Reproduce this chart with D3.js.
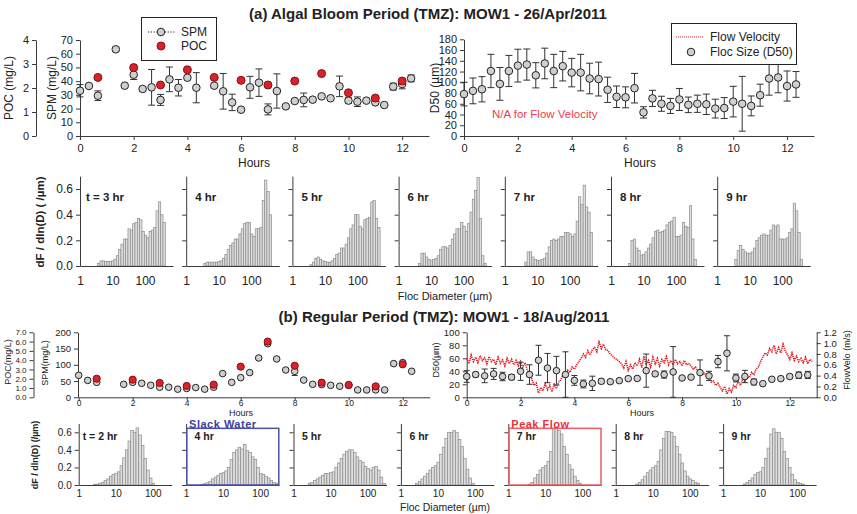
<!DOCTYPE html>
<html>
<head>
<meta charset="utf-8">
<script src="https://cdn.jsdelivr.net/npm/d3@7"></script>
<style>
  body { margin: 0; background: #fff; }
  svg { font-family: "Liberation Sans", Arial, sans-serif; }
</style>
</head>
<body>
<svg id="fig" width="857" height="514"></svg>
<script>
// ---------- (a) Algal bloom period, 26 Apr 2011 ----------
const spmHoursA = [0,0.333,0.667,1.333,1.667,2,2.333,2.667,3,3.333,3.667,4,4.333,5,5.333,5.667,6,6.333,6.667,7,7.333,7.667,8,8.333,8.667,9,9.333,9.667,10,10.333,10.667,11,11.333,11.667,12,12.333];
const spmA    = [33,36.5,29.4,63.2,36.7,44.7,34.3,35.5,26.3,41.3,35.2,42.5,35.2,36.7,32.6,24.5,19.2,35.5,38.9,19.4,32.8,21.6,25.5,26.3,26.5,28.9,27.5,36.2,25.8,25.0,25.8,24.5,22.6,36.0,37.9,42.0];
const spmErrA = [4.5,0,3.5,1.5,0,3.5,1.5,13,4,9,6,0,11,0,13,6,0,8,10,4,12.5,0,0,5,0,0,0,7.5,2,3.5,0,0,0,2.5,3.5,2.5];

const pocHoursA = [0.667,2,3,4,5,6,7,8,9,10,11,12];
const pocA      = [2.44,2.85,2.125,2.76,2.44,2.32,2.125,2.29,2.6,1.8,1.58,2.29];

const d50HoursA = [0,0.333,0.667,1,1.333,1.667,2,2.333,2.667,3,3.333,3.667,4,4.333,4.667,5,5.333,5.667,6,6.333,6.667,7,7.333,7.667,8,8.333,8.667,9,9.333,9.667,10,10.333,10.667,11,11.333,11.667,12,12.333];
const d50A    = [78,84,87,121,97,121,131,133,113,135,121,130,118,118,107,106,86,73,72,89,44,70,60,56,68,58,60,59,51,52,64,60,56,76,107,109,93,96];
const d50ErrA = [22,24,23.5,31,30.5,29,30.5,29,23.5,28.5,31,27.5,26.5,34,28.5,31.5,23.5,20,19.5,27.5,10.5,15,14,14,20.5,14.5,16,19,17.5,19.5,28.5,51,18.5,20.5,31,28.5,28,24];

// ---------- (b) Regular period, 18 Aug 2011 ----------
const spmHoursB = [0,0.333,0.667,1.667,2,2.333,2.667,3,3.333,3.667,4,4.333,4.667,5,5.333,5.667,6,6.333,6.667,7,7.333,7.667,8,8.333,8.667,9,9.333,9.667,10,10.333,10.667,11,11.333,11.667,12,12.333];
const spmB    = [67.7,52,46,40,46,43,37,31,31,25,27,30,25,31,73,46,60.5,76,121,165,118,84,80,53,40,39,37,34,37,22.6,22.6,22.6,22.6,103.6,106.7,80];
const spmErrB = [0,0,3,0,5,0,0,3,0,0,3,0,0,3,0,0,0,0,0,5,0,0,13,0,0,3,0,0,3,0,0,0,0,0,3,0];

const pocHoursB = [0.667,2,3,4,5,6,7,8,9,10,11,12];
const pocB      = [2.0,1.9,1.55,1.22,1.36,3.3,6.0,3.4,1.58,1.33,1.18,3.55];

const d50HoursB = [0,0.333,0.667,1,1.333,1.667,2,2.333,2.667,3,3.333,3.667,4,4.333,4.667,5,5.333,5.667,6,6.333,6.667,7,7.333,7.667,8,8.333,8.667,9,9.333,9.667,10,10.333,10.667,11,11.333,11.667,12,12.333,12.667];
const d50B    = [32,35,33,36,32,31,40,35,57,45,41,35,26,20.5,21.5,24.6,24,25.6,28.7,29,41,36,35,39,29.7,31,38,33,55,67.7,29.7,32,23.6,21,27.7,28.7,32,34,34.4];
const d50ErrB = [9,3.5,10.5,8.5,6.5,4,14,15,23,22.5,22,35,7.5,6,11,3.5,2,2,2,2,25.5,3,5.5,39,2,2,19.5,7,9.5,27,6,9.5,4.5,2,2,2,3,5,5.5];

// Near-bed flow velocity (m/s), one reading every 5 minutes from 0 h
const velStepHours = 1 / 12;
const velocityB = [
  0.72,0.62,0.78,0.66,
  0.74,0.64,0.77,0.68,0.73,0.62,0.75,0.66,0.70,0.60,0.74,0.63,0.69,0.58,0.72,0.62,0.70,0.60,
  0.68,0.58,0.66,0.55,0.64,
  0.50,0.42,0.34,0.22,0.26,
  0.08,0.18,
  0.12,0.25,0.14,0.22,0.10,0.24,0.16,
  0.28,0.33,0.42,0.38,
  0.50,0.46,0.56,0.52,0.60,0.66,
  0.72,0.80,0.74,0.86,0.78,0.88,
  0.92,0.84,1.02,0.90,0.98,0.88,
  0.86,0.80,0.76,0.72,0.70,0.66,
  0.62,0.54,0.66,0.50,0.60,0.52,0.64,
  0.58,0.70,0.55,0.76,0.60,0.68,0.56,0.74,0.62,0.72,0.58,0.70,0.64,0.75,0.60,
  0.68,0.60,0.70,0.62,0.66,0.58,0.68,0.60,0.62,
  0.58,0.52,0.56,0.48,0.50,0.42,0.44,0.38,
  0.34,0.28,0.30,0.22,0.26,0.18,
  0.12,0.20,0.06,0.16,0.10,0.22,
  0.18,0.30,0.22,0.34,0.28,0.38,
  0.36,0.46,0.42,0.52,0.56,
  0.66,0.74,0.82,0.78,0.90,
  0.84,0.96,0.80,0.92,0.82,0.98,0.86,
  0.78,0.70,0.82,0.68,0.76,0.66,
  0.72,0.64,0.74,0.62,0.70,0.66
];

// ---------- Floc size distributions (32 log-spaced size classes, µm) ----------
const binEdges = [2.50,2.95,3.48,4.11,4.85,5.72,6.75,7.96,9.40,11.1,13.1,15.4,18.2,21.5,25.4,29.9,35.3,41.7,49.2,58.0,68.5,80.8,95.3,112.5,132.8,156.7,184.9,218.1,257.4,303.7,358.4,422.9,499.0];

const psdLabelsA = ["t = 3 hr","4 hr","5 hr","6 hr","7 hr","8 hr","9 hr"];
const psdA = [
  [0,0,0.02,0.04,0.04,0.035,0.035,0.035,0.04,0.05,0.08,0.13,0.17,0.21,0.21,0.29,0.28,0.33,0.34,0.37,0.36,0.27,0.24,0.22,0.27,0.28,0.30,0.43,0.50,0.40,0.34,0],
  [0,0,0.02,0.03,0.03,0.03,0.03,0.03,0.035,0.04,0.06,0.09,0.13,0.16,0.18,0.21,0.21,0.25,0.29,0.33,0.34,0.34,0.25,0.23,0.29,0.29,0.30,0.51,0.67,0.58,0.40,0],
  [0,0,0.01,0.03,0.06,0.07,0.05,0.04,0.035,0.03,0.03,0.04,0.06,0.09,0.10,0.14,0.14,0.17,0.22,0.29,0.32,0.40,0.40,0.31,0.29,0.36,0.37,0.38,0.50,0.51,0.37,0.30],
  [0,0,0,0.02,0.10,0.10,0.07,0.05,0.04,0.05,0.06,0.08,0.13,0.15,0.15,0.14,0.16,0.21,0.25,0.29,0.29,0.34,0.31,0.27,0.33,0.42,0.52,0.59,0.69,0.37,0.08,0.02],
  [0,0,0,0.03,0.11,0.11,0.07,0.05,0.045,0.045,0.05,0.06,0.10,0.15,0.20,0.21,0.20,0.21,0.23,0.23,0.26,0.26,0.25,0.23,0.25,0.35,0.54,0.48,0.63,0.46,0.42,0.26],
  [0,0,0.02,0.20,0.21,0.14,0.12,0.08,0.09,0.11,0.14,0.17,0.22,0.27,0.28,0.26,0.27,0.28,0.32,0.34,0.35,0.38,0.23,0.23,0.24,0.34,0.31,0.30,0.47,0.21,0.05,0],
  [0,0,0.05,0.12,0.16,0.13,0.11,0.10,0.10,0.11,0.14,0.20,0.22,0.24,0.25,0.24,0.24,0.28,0.32,0.31,0.32,0.21,0.21,0.21,0.22,0.26,0.29,0.49,0.43,0.26,0.05,0]
];

const psdLabelsB = ["t = 2 hr","4 hr","5 hr","6 hr","7 hr","8 hr","9 hr"];
const psdB = [
  [0.005,0.01,0.02,0.03,0.05,0.07,0.10,0.12,0.13,0.15,0.22,0.31,0.40,0.50,0.62,0.60,0.65,0.57,0.45,0.30,0.17,0.08,0.02,0,0,0,0,0,0,0,0,0],
  [0.005,0.015,0.025,0.04,0.07,0.09,0.11,0.13,0.14,0.16,0.20,0.29,0.37,0.40,0.43,0.41,0.46,0.39,0.37,0.32,0.29,0.20,0.13,0.12,0.10,0.08,0.05,0.03,0.02,0,0,0],
  [0.02,0.03,0.05,0.07,0.09,0.11,0.13,0.13,0.14,0.15,0.20,0.25,0.30,0.35,0.38,0.40,0.40,0.37,0.32,0.28,0.26,0.21,0.19,0.17,0.20,0.21,0.17,0.09,0.02,0,0,0],
  [0.02,0.04,0.07,0.10,0.13,0.17,0.20,0.22,0.26,0.35,0.43,0.53,0.60,0.60,0.62,0.60,0.52,0.44,0.30,0.18,0.08,0.02,0,0,0,0,0,0,0,0,0,0],
  [0,0,0.01,0.03,0.08,0.12,0.17,0.20,0.22,0.27,0.38,0.64,0.66,0.62,0.58,0.44,0.35,0.23,0.18,0.10,0.05,0.02,0,0,0,0,0,0,0,0,0,0],
  [0,0,0.01,0.03,0.06,0.10,0.14,0.17,0.20,0.22,0.27,0.40,0.53,0.61,0.61,0.60,0.55,0.44,0.35,0.25,0.16,0.10,0.07,0.05,0.03,0.02,0,0,0,0,0,0],
  [0,0,0.01,0.03,0.05,0.08,0.12,0.14,0.15,0.20,0.30,0.42,0.58,0.64,0.60,0.60,0.53,0.38,0.30,0.20,0.12,0.06,0.03,0.02,0.01,0,0,0,0,0,0,0]
];

const hourTicks = [0,2,4,6,8,10,12];
const psdTicks = [1,10,100];
const psdYTicks = [0,0.2,0.4,0.6];

// ---------- drawing ----------
const svg = d3.select("#fig");
const AXIS = "#3a3a3a", TXT = "#222";
const RED = "#d8232a", GREY = "#cfcfcf";

function styleAxis(g, fs) {
  g.attr("font-family", null).attr("font-size", fs);
  g.selectAll(".domain,.tick line").attr("stroke", AXIS);
  g.selectAll("text").attr("fill", TXT);
  return g;
}

function vText(x, y, txt, fs, weight) {
  return svg.append("text")
    .attr("transform", `translate(${x},${y}) rotate(-90)`)
    .attr("text-anchor", "middle").attr("font-size", fs)
    .attr("font-weight", weight || "normal").attr("fill", TXT).text(txt);
}

function hText(x, y, txt, fs, opts = {}) {
  return svg.append("text").attr("x", x).attr("y", y)
    .attr("text-anchor", opts.anchor || "start").attr("font-size", fs)
    .attr("font-weight", opts.weight || "normal")
    .attr("fill", opts.fill || TXT).text(txt);
}

function errorBars(g, xs, vs, es, x, y, cap) {
  const idx = d3.range(xs.length).filter(i => es[i] > 0);
  const eb = g.append("g").attr("stroke", "#333").attr("stroke-width", 1);
  eb.selectAll("line.v").data(idx).join("line").attr("class", "v")
    .attr("x1", i => x(xs[i])).attr("x2", i => x(xs[i]))
    .attr("y1", i => y(Math.max(0, vs[i] - es[i]))).attr("y2", i => y(vs[i] + es[i]));
  ["lo", "hi"].forEach(side => {
    eb.selectAll("line." + side).data(idx).join("line").attr("class", side)
      .attr("x1", i => x(xs[i]) - cap).attr("x2", i => x(xs[i]) + cap)
      .attr("y1", i => y(side === "lo" ? Math.max(0, vs[i] - es[i]) : vs[i] + es[i]))
      .attr("y2", i => y(side === "lo" ? Math.max(0, vs[i] - es[i]) : vs[i] + es[i]));
  });
}

function dots(g, xs, vs, x, y, r, fill, stroke) {
  g.append("g").selectAll("circle").data(d3.range(xs.length)).join("circle")
    .attr("cx", i => x(xs[i])).attr("cy", i => y(vs[i])).attr("r", r)
    .attr("fill", fill).attr("stroke", stroke).attr("stroke-width", 1);
}

// Titles
hText(428, 19, "(a) Algal Bloom Period (TMZ): MOW1 - 26/Apr/2011", 15, { anchor: "middle", weight: "bold" });
hText(444, 322, "(b) Regular Period (TMZ): MOW1 - 18/Aug/2011", 15, { anchor: "middle", weight: "bold" });

// ===== (a) SPM / POC time series =====
{
  const x = d3.scaleLinear([0, 13], [80, 429]);
  const ySpm = d3.scaleLinear([0, 70], [136, 40]);
  const yPoc = d3.scaleLinear([0, 4], [136, 40]);
  styleAxis(svg.append("g").attr("transform", "translate(80,0)")
    .call(d3.axisLeft(ySpm).tickValues(d3.range(0, 71, 10)).tickSize(4).tickPadding(3).tickSizeOuter(0)), 11);
  styleAxis(svg.append("g").attr("transform", "translate(36,0)")
    .call(d3.axisLeft(yPoc).ticks(4).tickSize(4).tickPadding(3).tickSizeOuter(0)), 11);
  styleAxis(svg.append("g").attr("transform", "translate(0,136)")
    .call(d3.axisBottom(x).tickValues(hourTicks).tickSize(4).tickPadding(4).tickSizeOuter(0)), 11);
  vText(56, 88, "SPM (mg/L)", 12);
  vText(13, 88, "POC (mg/L)", 12);
  hText(254, 167, "Hours", 12, { anchor: "middle" });

  const g = svg.append("g");
  errorBars(g, spmHoursA, spmA, spmErrA, x, ySpm, 3.5);
  dots(g, spmHoursA, spmA, x, ySpm, 3.8, GREY, "#222");
  dots(g, pocHoursA, pocA, x, yPoc, 4, RED, "#8a0d10");

  // legend
  const lg = svg.append("g");
  lg.append("rect").attr("x", 141.5).attr("y", 17.5).attr("width", 75).attr("height", 43)
    .attr("fill", "#fff").attr("stroke", "#222");
  lg.append("line").attr("x1", 148).attr("x2", 175).attr("y1", 32).attr("y2", 32)
    .attr("stroke", "#222").attr("stroke-dasharray", "1.2,1.6");
  lg.append("circle").attr("cx", 161).attr("cy", 32).attr("r", 3.8).attr("fill", GREY).attr("stroke", "#222");
  lg.append("circle").attr("cx", 161).attr("cy", 46).attr("r", 4).attr("fill", RED).attr("stroke", "#8a0d10");
  hText(181, 36, "SPM", 12);
  hText(181, 50, "POC", 12);
}

// ===== (a) D50 time series =====
{
  const x = d3.scaleLinear([0, 13], [464, 814]);
  const y = d3.scaleLinear([0, 180], [136, 39.3]);
  styleAxis(svg.append("g").attr("transform", "translate(464,0)")
    .call(d3.axisLeft(y).tickValues(d3.range(0, 181, 20)).tickSize(4).tickPadding(3).tickSizeOuter(0)), 11);
  styleAxis(svg.append("g").attr("transform", "translate(0,136)")
    .call(d3.axisBottom(x).tickValues(hourTicks).tickSize(4).tickPadding(4).tickSizeOuter(0)), 11);
  vText(439, 88, "D50 (µm)", 12);
  hText(640, 167, "Hours", 12, { anchor: "middle" });
  hText(492, 118, "N/A for Flow Velocity", 11.5, { fill: "#e8404a" });

  const g = svg.append("g");
  errorBars(g, d50HoursA, d50A, d50ErrA, x, y, 3.5);
  dots(g, d50HoursA, d50A, x, y, 3.8, GREY, "#222");

  const lg = svg.append("g");
  lg.append("rect").attr("x", 671.5).attr("y", 23.5).attr("width", 125).attr("height", 41)
    .attr("fill", "#fff").attr("stroke", "#222");
  lg.append("line").attr("x1", 676).attr("x2", 704).attr("y1", 37).attr("y2", 37)
    .attr("stroke", RED).attr("stroke-width", 1.2).attr("stroke-dasharray", "1,1");
  lg.append("circle").attr("cx", 691).attr("cy", 52).attr("r", 3.8).attr("fill", GREY).attr("stroke", "#222");
  hText(710, 41, "Flow Velocity", 12);
  hText(710, 56, "Floc Size (D50)", 12);
}

// ===== floc size distribution rows =====
function psdRow(rows, labels, opt) {
  const y = d3.scaleLinear([0, 0.7], [opt.y0, opt.yTop]);
  rows.forEach((vals, p) => {
    const x0 = opt.x0 + p * opt.step;
    const x = d3.scaleLog([1, opt.dMax], [x0, x0 + 93]);
    const g = svg.append("g");
    const bins = d3.range(vals.length).filter(k => vals[k] > 0 && binEdges[k] < opt.dMax);
    g.selectAll("rect").data(bins).join("rect")
      .attr("x", k => x(binEdges[k]))
      .attr("width", k => x(Math.min(binEdges[k + 1], opt.dMax)) - x(binEdges[k]))
      .attr("y", k => y(vals[k]))
      .attr("height", k => y(0) - y(vals[k]))
      .attr("fill", "#dedede").attr("stroke", "#8c8c8c").attr("stroke-width", 0.7);
    styleAxis(g.append("g").attr("transform", `translate(0,${opt.y0})`)
      .call(d3.axisBottom(x).tickValues(psdTicks).tickFormat(d3.format("d"))
        .tickSize(0).tickPadding(opt.xPad).tickSizeOuter(0)), opt.fs);
    styleAxis(g.append("g").attr("transform", `translate(${x0},0)`)
      .call(d3.axisLeft(y).tickValues(psdYTicks).tickSize(4).tickPadding(3).tickSizeOuter(0)
        .tickFormat(p === 0 ? d3.format(".1f") : () => "")), opt.fs);
    hText(x0 + (p === 0 ? opt.lab0 : opt.lab), opt.labY, labels[p], opt.labFs, { weight: "bold" });
    if (opt.boxes && opt.boxes[p]) {
      const b = opt.boxes[p];
      g.append("rect").attr("x", x0 + 0.7).attr("y", y(0.645)).attr("width", 92)
        .attr("height", y(0) - y(0.645)).attr("fill", "none")
        .attr("stroke", b.stroke).attr("stroke-width", 1.5);
      hText(x0 + 3, opt.y0 - 57, b.text, 11, { weight: "bold", fill: b.fill })
        .attr("letter-spacing", 0.5);
    }
  });
}

psdRow(psdA, psdLabelsA, {
  x0: 80, step: 106.2, y0: 266, yTop: 176.2, dMax: 727, fs: 12, xPad: 10,
  lab0: 6, lab: 9, labY: 201, labFs: 11.5
});
vText(44, 222, "dF / dln(D) ( /µm)", 11.5, "bold");
hText(445, 300, "Floc Diameter (µm)", 11, { anchor: "middle" });

// ===== (b) SPM / POC time series =====
{
  const x = d3.scaleLinear([0, 13], [78.7, 429.7]);
  const ySpm = d3.scaleLinear([0, 200], [397.3, 332.3]);
  const yPoc = d3.scaleLinear([0, 7], [397.3, 332.3]);
  styleAxis(svg.append("g").attr("transform", "translate(78,0)")
    .call(d3.axisLeft(ySpm).tickValues([0, 50, 100, 150, 200]).tickSize(4).tickPadding(3).tickSizeOuter(0)), 9.5);
  styleAxis(svg.append("g").attr("transform", "translate(33.5,0)")
    .call(d3.axisLeft(yPoc).tickValues(d3.range(0, 8)).tickSize(4).tickPadding(3).tickSizeOuter(0)), 8);
  styleAxis(svg.append("g").attr("transform", "translate(0,397.3)")
    .call(d3.axisBottom(x).tickValues(hourTicks).tickSize(3).tickPadding(0).tickSizeOuter(0)), 8.5);
  vText(48, 363, "SPM(mg/L)", 9);
  vText(11, 362, "POC(mg/L)", 9);
  hText(241, 416, "Hours", 9, { anchor: "middle" });

  const g = svg.append("g");
  errorBars(g, spmHoursB, spmB, spmErrB, x, ySpm, 3);
  dots(g, spmHoursB, spmB, x, ySpm, 3.3, GREY, "#222");
  dots(g, pocHoursB, pocB, x, yPoc, 3.6, RED, "#8a0d10");
}

// ===== (b) D50 with flow velocity =====
{
  const x = d3.scaleLinear([0, 13], [466.7, 816.7]);
  const y = d3.scaleLinear([0, 100], [397.3, 332.3]);
  const yV = d3.scaleLinear([0, 1.2], [397.3, 332.3]);
  styleAxis(svg.append("g").attr("transform", "translate(466.7,0)")
    .call(d3.axisLeft(y).tickValues(d3.range(0, 101, 20)).tickSize(4).tickPadding(3).tickSizeOuter(0)), 9.5);
  styleAxis(svg.append("g").attr("transform", "translate(816.7,0)")
    .call(d3.axisRight(yV).tickValues([0, 0.2, 0.4, 0.6, 0.8, 1.0, 1.2]).tickFormat(d3.format(".1f"))
      .tickSize(4).tickPadding(3).tickSizeOuter(0)), 9.5);
  styleAxis(svg.append("g").attr("transform", "translate(0,397.3)")
    .call(d3.axisBottom(x).tickValues(hourTicks).tickSize(3).tickPadding(0).tickSizeOuter(0)), 8.5);
  vText(439, 360, "D50(µm)", 9);
  vText(850, 360, "FlowVelo (m/s)", 9);
  hText(642, 416, "Hours", 9, { anchor: "middle" });

  const line = d3.line().x((v, i) => x(i * velStepHours)).y(v => yV(v));
  svg.append("path").attr("d", line(velocityB)).attr("fill", "none")
    .attr("stroke", "#e3141c").attr("stroke-width", 1.6).attr("stroke-dasharray", "1.2,0.9");

  const g = svg.append("g");
  errorBars(g, d50HoursB, d50B, d50ErrB, x, y, 3);
  dots(g, d50HoursB, d50B, x, y, 3.3, GREY, "#222");
}

psdRow(psdB, psdLabelsB, {
  x0: 78.7, step: 107.4, y0: 485, yTop: 423.5, dMax: 325, fs: 10, xPad: 5,
  lab0: 4, lab: 8.5, labY: 439.5, labFs: 10.5,
  boxes: {
    1: { text: "Slack Water", stroke: "#4b50ab", fill: "#3d41a0" },
    4: { text: "Peak Flow", stroke: "#ef5b60", fill: "#e8323c" }
  }
});
vText(38, 455, "dF / dln(D) (/µm)", 9, "bold");
hText(445, 511, "Floc Diameter (µm)", 10.5, { anchor: "middle" });
</script>
</body>
</html>
